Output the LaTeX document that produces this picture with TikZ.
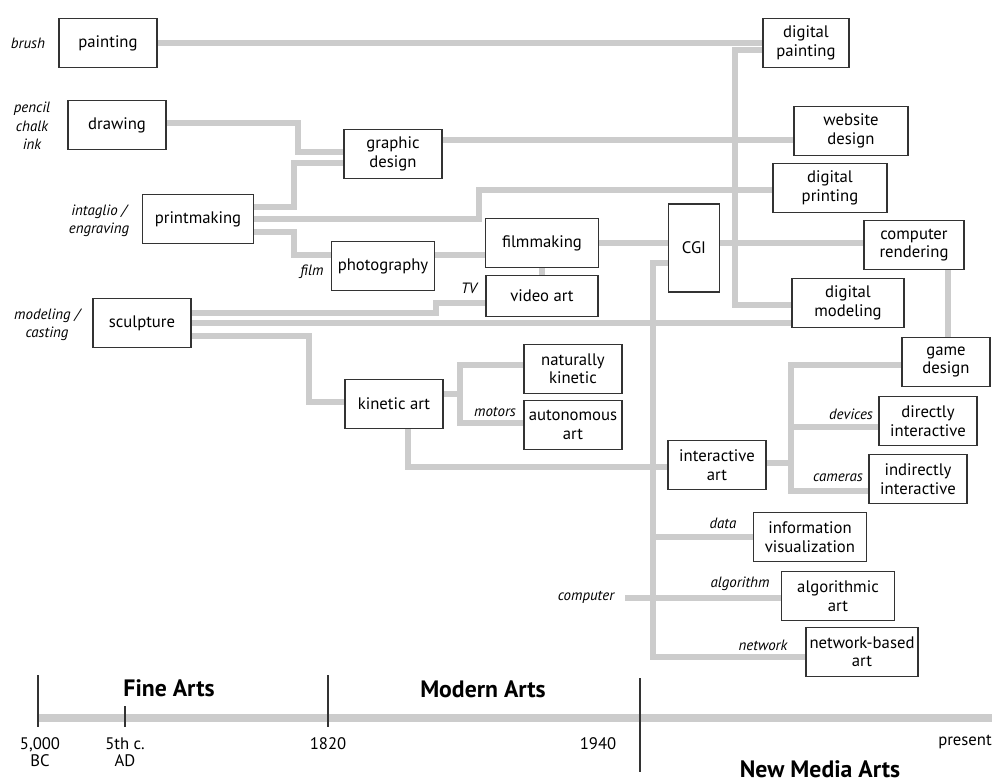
\documentclass[tikz,border=0pt]{standalone}
\usepackage{fontspec}
\setmainfont{PT Sans}
\usetikzlibrary{backgrounds}

\begin{document}
\begin{tikzpicture}[x=0.02cm, y=-0.02cm,
    box/.style={draw=black!80, line width=0.8pt, fill=white, align=center, inner sep=1pt,
        minimum width=1.96cm, minimum height=0.98cm, font=\fontsize{9.5}{10.5}\selectfont},
    wire/.style={draw=gray!40, line width=3.4pt},
    tool/.style={align=center, inner sep=0pt, font=\fontsize{8.5}{10.5}\selectfont\itshape},
    era/.style={inner sep=0pt, font=\fontsize{13.5}{15}\selectfont\bfseries},
    year/.style={align=center, inner sep=0pt, font=\fontsize{9.5}{9.5}\selectfont},
    tick/.style={draw=black!80, line width=0.9pt}]
\useasboundingbox (0,0) rectangle (992,784);

% Fine arts
\node[box] (painting) at (108,43) {painting};
\node[box] (drawing) at (117,125) {drawing};
\node[box] (graphic) at (393,154) {graphic\\design};
\node[box, minimum width=2.22cm] (printmaking) at (198,219) {printmaking};
\node[box, minimum width=2.06cm] (photography) at (383,266) {photography};
\node[box] (sculpture) at (142,323) {sculpture};

% Modern arts
\node[box, minimum width=2.26cm] (filmmaking) at (542,243) {filmmaking};
\node[box, minimum width=2.24cm, minimum height=0.82cm] (videoart) at (542,296) {video art};
\node[box] (kinetic) at (394,404) {kinetic art};
\node[box] (natkinetic) at (573,369) {naturally\\kinetic};
\node[box] (autonomous) at (573,425) {autonomous\\art};

% New media arts
\node[box, minimum width=1.02cm, minimum height=1.76cm] (cgi) at (694,248) {CGI};
\node[box, minimum width=1.72cm] (dpainting) at (806,43) {digital\\painting};
\node[box, minimum width=2.28cm] (website) at (851,131) {website\\design};
\node[box, minimum width=2.28cm] (dprinting) at (830,188) {digital\\printing};
\node[box, minimum width=2cm] (rendering) at (914,245) {computer\\rendering};
\node[box, minimum width=2.24cm] (dmodeling) at (848,303) {digital\\modeling};
\node[box, minimum width=1.76cm] (gamedesign) at (946,362) {game\\design};
\node[box] (interactive) at (717,465) {interactive\\art};
\node[box] (directly) at (928,421) {directly\\interactive};
\node[box] (indirectly) at (918,479) {indirectly\\interactive};
\node[box, minimum width=2.26cm] (infovis) at (810,537) {information\\visualization};
\node[box, minimum width=2.26cm] (algorithmic) at (838,596) {algorithmic\\art};
\node[box, minimum width=2.24cm] (network) at (862,652) {network-based\\art};

% Tools
\node[tool] (lbrush) at (28,43) {brush};
\node[tool] (lpencil) at (32,126) {pencil\\chalk\\ink};
\node[tool] (lintaglio) at (99,221) {intaglio /\\engraving};
\node[tool] (lfilm) at (312,272) {film};
\node[tool] (ltv) at (469,288) {TV};
\node[tool] (lmodeling) at (47,325) {modeling /\\casting};
\node[tool] (lmotors) at (495,412) {motors};
\node[tool] (ldevices) at (851,414) {devices};
\node[tool] (lcameras) at (838,478) {cameras};
\node[tool] (ldata) at (723,523) {data};
\node[tool] (lalgorithm) at (740,584) {algorithm};
\node[tool] (lcomputer) at (586,597) {computer};
\node[tool] (lnetwork) at (763,645) {network};
\coordinate (trunk) at (653,0);
\coordinate (cstub) at (625,598);

% Links
\begin{scope}[on background layer]
\draw[wire] (painting.east) -- (painting.east -| dpainting.west);
\draw[wire] (dpainting.west |- 0,50) -- ++(-27,0) |- (dmodeling.west |- 0,305);
\draw[wire] (drawing.east |- 0,123) -- ++(131,0) |- (graphic.west |- 0,152);
\draw[wire] (graphic.east |- 0,140) -- (website.west |- 0,140);
\draw[wire] (printmaking.east |- 0,207) -- ++(40,0) |- (graphic.west |- 0,163);
\draw[wire] (printmaking.east) -- ++(225,0) |- (dprinting.west |- 0,190);
\draw[wire] (printmaking.east |- 0,232) -- ++(40,0) |- (photography.west |- 0,255);
\draw[wire] (photography.east |- 0,255) -- (filmmaking.west |- 0,255);
\draw[wire] (filmmaking.east) -- (cgi.west |- filmmaking.east);
\draw[wire] (filmmaking.south) -- (videoart.north);
\draw[wire] (cgi.east |- 0,243) -- (rendering.west |- 0,243);
\draw[wire] (rendering.south -| 948,0) -- (gamedesign.north -| 948,0);
\draw[wire] (videoart.west |- 0,303) -- ++(-49,0) |- (sculpture.east |- 0,313);
\draw[wire] (sculpture.east) -- (sculpture.east -| dmodeling.west);
\draw[wire] (sculpture.east |- 0,336) -- ++(117,0) |- (kinetic.west |- 0,402);
\draw[wire] (kinetic.east |- 0,394) -- ++(18,0);
\draw[wire] (natkinetic.west |- 0,365) -- ++(-63,0) |- (autonomous.west |- 0,423);
\draw[wire] (kinetic.south -| 408,0) |- (interactive.west |- 0,467);
\draw[wire] (cgi.west |- 0,263) -- (trunk |- 0,263) |- (network.west |- 0,657);
\draw[wire] (infovis.west |- 0,537) -- (trunk |- 0,537);
\draw[wire] (cstub) -- (algorithmic.west |- cstub);
\draw[wire] (interactive.east |- 0,463) -- ++(26,0);
\draw[wire] (gamedesign.west |- 0,365) -- ++(-110,0) |- (indirectly.west |- 0,491);
\draw[wire] (directly.west |- 0,427) -- ++(-87,0);
\end{scope}

% Timeline
\draw[gray!40, line width=4.5pt] (38,718) -- (992,718);
\draw[tick] (38,675) -- (38,727);
\draw[tick] (125,706) -- (125,727);
\draw[tick] (328,675) -- (328,727);
\draw[tick] (640,678) -- (640,772);
\node[year] (y5000) at (40,752) {5,000\\BC};
\node[year] (y5th) at (125,752) {5th c.\\AD};
\node[year] (y1820) at (328,744) {1820};
\node[year] (y1940) at (598,744) {1940};
\node[year] (ypresent) at (965,742) {present};
\node[era] (fine) at (169,688) {Fine Arts};
\node[era] (modern) at (483,689) {Modern Arts};
\node[era] (newmedia) at (820,769) {New Media Arts};
\end{tikzpicture}
\end{document}
